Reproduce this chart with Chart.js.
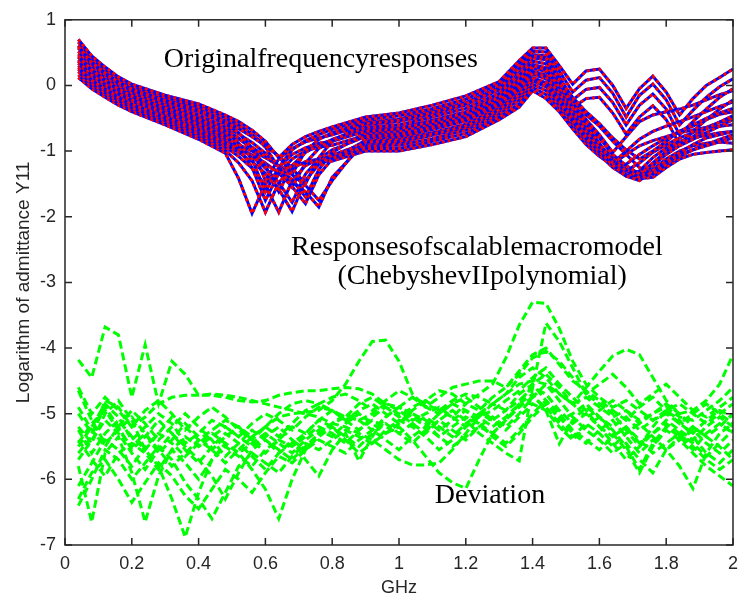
<!DOCTYPE html>
<html><head><meta charset="utf-8">
<script src="https://cdn.jsdelivr.net/npm/chart.js@4.4.1/dist/chart.umd.min.js"></script>
<style>html,body{margin:0;padding:0;background:#fff;}canvas{display:block;}</style>
</head><body>
<canvas id="c" width="746" height="603"></canvas>
<script>
// ---------- tick labels ----------
const xTickValues = [0,0.2,0.4,0.6,0.8,1,1.2,1.4,1.6,1.8,2];
const xTickLabels = ['0','0.2','0.4','0.6','0.8','1','1.2','1.4','1.6','1.8','2'];
const yTickValues = [-7,-6,-5,-4,-3,-2,-1,0,1];
const yTickLabels = ['-7','-6','-5','-4','-3','-2','-1','0','1'];
const xTitle = 'GHz';
const yTitle = 'Logarithm of admittance Y11';

// ---------- original / macromodel responses (GHz, log Y11) ----------
const freqTop = [0.04,0.08,0.12,0.16,0.20,0.30,0.40,0.48,0.52,0.56,0.60,0.64,0.68,0.72,0.76,0.80,0.90,1.00,1.10,1.20,1.30,1.36,1.40,1.44,1.48,1.52,1.56,1.60,1.64,1.68,1.72,1.76,1.80,1.84,1.88,1.92,1.96,2.00];
const orig01 = [0.70,0.45,0.28,0.13,0.02,-0.15,-0.28,-0.45, -0.55,-0.68,-0.85,-1.10,-0.90,-0.78,-0.70,-0.63, -0.48,-0.42,-0.30,-0.16,0.06,0.38,0.57,0.57, 0.30,0.02,0.22,0.25,0.00,-0.35,-0.05,0.14,-0.10,-0.45,-0.20,0.00,0.12,0.25];
const orig02 = [0.66,0.41,0.24,0.10,-0.01,-0.18,-0.32,-0.49, -0.60,-0.74,-0.94,-1.25,-0.98,-0.84,-0.75,-0.67, -0.52,-0.46,-0.35,-0.21,0.02,0.33,0.52,0.51, 0.22,-0.10,0.08,0.12,-0.12,-0.48,-0.15,0.02,-0.22,-0.60,-0.38,-0.18,-0.02,0.10];
const orig03 = [0.61,0.37,0.21,0.06,-0.05,-0.22,-0.36,-0.54, -0.64,-0.76,-0.90,-1.08,-1.35,-1.00,-0.82,-0.72, -0.56,-0.51,-0.39,-0.26,-0.03,0.27,0.47,0.45, 0.14,-0.22,-0.06,-0.03,-0.26,-0.60,-0.30,-0.13,-0.36,-0.75,-0.55,-0.36,-0.18,-0.05];
const orig04 = [0.57,0.33,0.17,0.03,-0.08,-0.25,-0.40,-0.58, -0.72,-0.95,-1.45,-1.12,-0.96,-0.86,-0.80,-0.75, -0.60,-0.55,-0.44,-0.30,-0.07,0.22,0.42,0.39, 0.06,-0.34,-0.20,-0.18,-0.42,-0.74,-0.48,-0.31,-0.52,-0.90,-0.70,-0.52,-0.36,-0.22];
const orig05 = [0.52,0.30,0.14,0.00,-0.11,-0.29,-0.45,-0.63, -0.74,-0.87,-1.03,-1.24,-1.55,-1.18,-0.96,-0.82, -0.64,-0.60,-0.48,-0.35,-0.12,0.16,0.37,0.33, 0.05,-0.22,-0.45,-0.62,-0.85,-1.05,-1.25,-1.35,-1.20,-1.02,-0.90,-0.80,-0.75,-0.70];
const orig06 = [0.48,0.26,0.10,-0.04,-0.14,-0.32,-0.49,-0.67, -0.80,-0.98,-1.22,-1.62,-1.22,-1.02,-0.90,-0.83, -0.68,-0.64,-0.53,-0.40,-0.16,0.11,0.32,0.27, 0.00,-0.28,-0.52,-0.75,-1.02,-0.78,-0.55,-0.45,-0.40,-0.36,-0.30,-0.22,-0.14,-0.08];
const orig07 = [0.43,0.22,0.07,-0.07,-0.17,-0.36,-0.53,-0.72, -0.82,-0.94,-1.08,-1.24,-1.44,-1.70,-1.28,-1.02, -0.72,-0.69,-0.58,-0.45,-0.21,0.05,0.27,0.21, -0.05,-0.35,-0.62,-0.88,-1.18,-1.00,-0.82,-0.70,-0.62,-0.55,-0.48,-0.40,-0.32,-0.25];
const orig08 = [0.39,0.18,0.03,-0.10,-0.21,-0.39,-0.57,-0.76, -0.95,-1.25,-1.75,-1.34,-1.12,-1.00,-0.94,-0.91, -0.76,-0.73,-0.62,-0.49,-0.25,0.00,0.22,0.16, -0.10,-0.40,-0.66,-0.90,-1.10,-1.28,-1.40,-1.22,-1.05,-0.92,-0.82,-0.72,-0.62,-0.52];
const orig09 = [0.34,0.14,0.00,-0.13,-0.24,-0.43,-0.61,-0.81, -0.90,-1.00,-1.10,-1.22,-1.36,-1.52,-1.75,-1.45, -0.80,-0.78,-0.67,-0.54,-0.30,-0.06,0.17,0.10, -0.15,-0.44,-0.72,-0.98,-1.22,-1.38,-1.45,-1.30,-1.15,-1.05,-0.98,-0.92,-0.86,-0.80];
const orig10 = [0.30,0.10,-0.04,-0.17,-0.27,-0.46,-0.65,-0.85, -0.95,-1.06,-1.18,-1.34,-1.54,-1.80,-1.36,-1.12, -0.84,-0.82,-0.72,-0.59,-0.34,-0.11,0.12,0.04, -0.20,-0.50,-0.78,-1.02,-1.20,-1.05,-0.92,-0.84,-0.78,-0.72,-0.68,-0.64,-0.62,-0.60];
const orig11 = [0.25,0.07,-0.07,-0.20,-0.30,-0.50,-0.70,-0.90, -1.02,-1.16,-1.34,-1.58,-1.92,-1.45,-1.20,-1.06, -0.88,-0.87,-0.76,-0.64,-0.39,-0.17,0.07,-0.02, -0.25,-0.55,-0.82,-1.00,-1.15,-1.30,-1.42,-1.40,-1.25,-1.12,-1.05,-1.02,-1.00,-0.98];
const orig12 = [0.21,0.03,-0.11,-0.23,-0.34,-0.53,-0.74,-0.94, -1.08,-1.26,-1.52,-1.93,-1.45,-1.22,-1.12,-1.07, -0.92,-0.91,-0.81,-0.68,-0.43,-0.22,0.02,-0.08, -0.30,-0.58,-0.85,-1.05,-1.25,-1.38,-1.30,-1.10,-0.95,-0.85,-0.80,-0.76,-0.72,-0.70];
const orig13 = [0.16,-0.01,-0.14,-0.27,-0.37,-0.57,-0.78,-0.99, -1.18,-1.45,-1.93,-1.48,-1.26,-1.16,-1.12,-1.11, -0.96,-0.96,-0.85,-0.73,-0.48,-0.28,-0.03,-0.14, -0.34,-0.62,-0.88,-1.02,-1.18,-1.36,-1.40,-1.28,-1.12,-1.00,-0.92,-0.88,-0.86,-0.88];
const orig14 = [0.12,-0.05,-0.18,-0.30,-0.40,-0.60,-0.82,-1.03, -1.42,-1.95,-1.50,-1.30,-1.22,-1.18,-1.16,-1.15, -1.00,-1.00,-0.90,-0.78,-0.52,-0.33,-0.08,-0.20, -0.40,-0.66,-0.90,-1.08,-1.22,-1.20,-1.05,-0.92,-0.80,-0.70,-0.62,-0.52,-0.44,-0.40];
const orig15 = [0.59,0.35,0.19,0.05,-0.06,-0.23,-0.38,-0.56, -0.66,-0.78,-0.92,-1.08,-1.26,-1.50,-1.10,-0.85, -0.58,-0.53,-0.41,-0.28,-0.05,0.25,0.45,0.42, 0.10,-0.18,-0.40,-0.58,-0.80,-0.98,-1.12,-1.00,-0.85,-0.70,-0.60,-0.50,-0.42,-0.35];
const orig16 = [0.45,0.24,0.08,-0.05,-0.15,-0.34,-0.51,-0.70, -0.88,-1.12,-1.62,-1.25,-1.05,-0.95,-0.88,-0.85, -0.70,-0.66,-0.55,-0.42,-0.18,0.08,0.30,0.24, -0.02,-0.30,-0.58,-0.80,-1.05,-1.22,-1.35,-1.18,-1.00,-0.88,-0.78,-0.66,-0.56,-0.46];
const orig17 = [0.27,0.08,-0.05,-0.18,-0.28,-0.48,-0.68,-0.88, -0.97,-1.08,-1.20,-1.32,-1.46,-1.62,-1.85,-1.40, -0.86,-0.85,-0.74,-0.62,-0.37,-0.14,0.10,0.00, -0.22,-0.52,-0.80,-1.00,-1.15,-1.28,-1.38,-1.35,-1.20,-1.08,-0.98,-0.90,-0.82,-0.75];
const orig18 = [0.37,0.16,0.02,-0.12,-0.22,-0.41,-0.59,-0.78, -0.92,-1.08,-1.26,-1.48,-1.78,-1.35,-1.12,-0.98, -0.78,-0.75,-0.64,-0.51,-0.27,-0.03,0.20,0.13, -0.12,-0.42,-0.70,-0.95,-1.15,-1.30,-1.18,-1.02,-0.90,-0.80,-0.72,-0.64,-0.56,-0.50];

// ---------- deviation curves ----------
const freqDev = [0.04,0.08,0.12,0.16,0.20,0.24,0.28,0.32,0.36,0.40,
  0.44,0.48,0.52,0.56,0.60,0.64,0.68,0.72,0.76,0.80,
  0.84,0.88,0.92,0.96,1.00,1.04,1.08,1.12,1.16,1.20,
  1.24,1.28,1.32,1.36,1.40,1.44,1.48,1.52,1.56,1.60,
  1.64,1.68,1.72,1.76,1.80,1.84,1.88,1.92,1.96,2.00];
const dev01 = [-4.18,-4.45,-3.68,-3.80,-4.75,-3.95,-4.85,-4.20,-4.40,-4.72,
  -4.72,-4.75,-4.80,-4.82,-4.80,-4.72,-4.68,-4.65,-4.65,-4.62,
  -4.60,-4.62,-4.70,-4.85,-4.90,-4.75,-4.85,-4.95,-4.80,-4.70,
  -4.75,-4.85,-4.70,-4.45,-4.30,-4.45,-4.70,-4.85,-4.75,-4.90,
  -5.05,-4.95,-5.10,-5.00,-4.90,-5.05,-5.10,-4.95,-4.80,-4.60];
const dev02 = [-5.25,-5.60,-5.30,-5.10,-5.35,-5.55,-5.30,-5.05,-5.20,-5.40,
  -5.25,-5.10,-5.20,-5.35,-5.20,-5.05,-5.00,-4.98,-4.95,-4.80,
  -4.55,-4.20,-3.90,-3.88,-4.20,-4.70,-4.90,-5.00,-4.85,-4.75,
  -4.90,-5.10,-4.95,-4.70,-4.55,-4.80,-5.10,-5.00,-4.85,-5.05,
  -5.20,-5.05,-5.25,-5.10,-5.00,-5.15,-5.30,-5.10,-4.95,-5.05];
const dev03 = [-5.50,-5.20,-4.85,-5.05,-5.40,-5.20,-5.00,-5.15,-5.45,-5.30,
  -5.10,-5.20,-5.35,-5.15,-5.00,-5.10,-5.25,-5.05,-4.90,-4.95,
  -5.05,-4.85,-4.75,-4.90,-5.05,-4.90,-4.80,-4.95,-5.05,-4.85,
  -4.70,-4.55,-4.15,-3.65,-3.30,-3.32,-3.70,-4.20,-4.55,-4.75,
  -4.90,-4.80,-4.95,-5.10,-4.95,-4.85,-5.00,-5.15,-5.00,-4.85];
const dev04 = [-5.20,-5.45,-5.00,-4.80,-5.10,-5.55,-5.80,-6.30,-6.88,-6.20,
  -5.70,-5.45,-5.60,-5.85,-6.15,-6.60,-6.00,-5.55,-5.30,-5.15,
  -5.05,-5.10,-5.00,-4.85,-4.95,-5.10,-5.00,-4.90,-5.05,-5.20,
  -5.00,-4.85,-4.95,-4.80,-4.60,-4.70,-4.95,-5.15,-5.00,-5.20,
  -5.35,-5.20,-5.45,-5.30,-5.10,-5.25,-5.40,-5.20,-5.05,-5.20];
const dev05 = [-5.80,-6.65,-5.60,-5.35,-5.90,-6.65,-5.95,-5.55,-5.75,-6.00,
  -5.70,-5.50,-5.65,-5.80,-5.55,-5.40,-5.50,-5.35,-5.20,-5.30,
  -5.45,-5.25,-5.10,-5.20,-5.30,-5.15,-5.05,-5.20,-5.35,-5.15,
  -5.00,-5.10,-5.25,-5.05,-4.85,-4.95,-5.20,-5.40,-5.20,-5.05,
  -5.25,-5.50,-5.85,-5.45,-5.20,-5.35,-5.55,-5.30,-5.15,-5.30];
const dev06 = [-6.40,-6.00,-5.55,-5.70,-6.00,-5.75,-5.50,-5.70,-6.05,-6.30,
  -6.60,-6.20,-5.80,-5.60,-5.75,-5.90,-5.65,-5.45,-5.55,-5.40,
  -5.25,-5.35,-5.45,-5.30,-5.20,-5.40,-5.65,-5.90,-6.05,-6.14,
  -5.70,-5.30,-5.10,-4.90,-4.75,-4.90,-5.15,-5.35,-5.15,-5.30,
  -5.50,-5.30,-5.15,-5.35,-5.55,-5.40,-5.25,-5.45,-5.60,-5.40];
const dev07 = [-5.60,-5.35,-4.80,-4.90,-5.20,-5.05,-4.85,-4.75,-4.72,-4.72,
  -4.70,-4.72,-4.75,-4.80,-4.85,-4.90,-4.95,-5.00,-5.05,-5.15,
  -5.20,-5.30,-5.40,-5.55,-5.70,-5.78,-5.78,-5.75,-5.55,-5.30,
  -5.05,-4.85,-4.70,-4.55,-4.50,-4.55,-4.70,-4.85,-4.60,-4.35,
  -4.12,-4.02,-4.10,-4.45,-4.80,-5.00,-4.95,-4.80,-4.55,-4.10];
const dev08 = [-4.65,-5.10,-5.45,-5.25,-5.05,-5.30,-5.60,-5.40,-5.15,-5.35,
  -5.55,-5.35,-5.20,-5.40,-5.60,-5.40,-5.20,-5.30,-5.10,-4.95,
  -5.10,-5.25,-5.05,-4.90,-5.00,-5.15,-5.30,-5.10,-4.95,-5.10,
  -5.30,-5.45,-5.60,-5.72,-4.60,-3.62,-3.90,-4.30,-4.70,-4.85,
  -5.00,-5.25,-5.50,-5.20,-4.95,-5.10,-5.35,-5.60,-5.75,-5.55];
const dev09 = [-5.40,-5.70,-5.95,-5.60,-5.45,-5.60,-5.85,-5.55,-5.35,-5.50,
  -5.35,-5.20,-5.35,-5.50,-5.35,-5.20,-5.40,-5.70,-5.95,-5.55,
  -5.30,-5.72,-5.35,-5.05,-4.90,-5.00,-5.15,-5.35,-5.20,-5.05,
  -5.15,-5.35,-5.50,-5.30,-5.05,-4.85,-5.05,-5.30,-5.45,-5.25,
  -5.10,-5.35,-5.60,-5.40,-5.55,-5.80,-6.14,-5.60,-5.30,-5.15];
const dev10 = [-6.10,-5.75,-5.40,-5.55,-5.80,-5.50,-5.30,-5.45,-5.65,-5.45,
  -5.30,-5.45,-5.60,-5.45,-5.30,-5.45,-5.60,-5.40,-5.25,-5.35,
  -5.15,-5.00,-5.15,-5.30,-5.15,-5.00,-5.10,-5.25,-5.10,-4.95,
  -5.05,-5.20,-5.05,-4.85,-4.70,-4.95,-5.46,-5.10,-4.90,-5.05,
  -5.30,-5.55,-5.90,-5.50,-5.25,-5.40,-5.60,-5.80,-5.95,-6.10];
const dev11 = [-4.60,-5.00,-4.75,-4.95,-5.20,-4.95,-4.80,-5.00,-5.25,-5.05,
  -4.90,-5.05,-5.25,-5.40,-5.20,-5.00,-4.85,-4.80,-4.85,-4.75,
  -4.70,-4.80,-4.95,-4.80,-4.65,-4.75,-4.90,-4.75,-4.60,-4.55,
  -4.50,-4.50,-4.60,-4.40,-4.15,-4.05,-4.20,-4.45,-4.70,-4.55,
  -4.40,-4.60,-4.85,-4.70,-4.55,-4.75,-4.95,-5.05,-4.90,-4.75];
const dev12 = [-6.30,-5.90,-5.70,-6.00,-6.35,-6.05,-5.75,-5.95,-6.25,-6.45,
  -6.15,-5.85,-6.00,-6.20,-5.90,-5.65,-5.75,-5.55,-5.40,-5.50,
  -5.60,-5.40,-5.25,-5.40,-5.55,-5.35,-5.20,-5.35,-5.50,-5.35,
  -5.20,-5.30,-5.45,-5.25,-5.00,-4.80,-5.00,-5.25,-5.40,-5.55,
  -5.35,-5.20,-5.40,-5.60,-5.45,-5.30,-5.45,-5.65,-5.45,-5.25];
const dev13 = [-5.00,-5.30,-4.90,-5.20,-5.55,-5.35,-5.10,-5.30,-5.55,-5.75,
  -5.50,-5.30,-5.45,-5.65,-5.85,-5.60,-5.40,-5.55,-5.35,-5.20,
  -5.35,-5.50,-5.30,-5.15,-5.30,-5.45,-5.25,-5.10,-5.25,-5.40,
  -5.20,-5.05,-5.20,-5.00,-4.75,-4.55,-4.80,-5.05,-5.25,-5.40,
  -5.60,-5.45,-5.70,-5.90,-5.55,-5.35,-5.20,-5.35,-5.50,-5.70];
const dev14 = [-5.70,-5.40,-5.10,-5.30,-5.60,-5.85,-5.55,-5.30,-5.50,-5.70,
  -5.95,-6.30,-5.90,-5.55,-5.40,-5.55,-5.70,-5.50,-5.30,-5.15,
  -5.00,-5.10,-5.25,-5.05,-4.90,-5.05,-5.20,-5.00,-4.85,-4.95,
  -5.15,-5.30,-5.10,-4.85,-4.55,-4.40,-4.60,-4.85,-5.05,-4.95,
  -4.80,-4.95,-5.15,-5.00,-4.85,-5.00,-5.20,-5.35,-5.20,-5.00];
const dev15 = [-4.90,-5.25,-5.50,-5.20,-4.95,-5.15,-5.40,-5.20,-5.00,-5.20,
  -5.40,-5.65,-5.45,-5.25,-5.40,-5.60,-5.45,-5.30,-5.10,-5.20,
  -5.40,-5.60,-5.45,-5.25,-5.10,-5.20,-5.35,-5.55,-5.40,-5.20,
  -5.05,-4.95,-4.80,-4.65,-4.45,-4.30,-4.55,-4.75,-4.95,-5.20,
  -5.45,-5.70,-5.50,-5.30,-5.15,-5.30,-5.50,-5.70,-5.85,-5.70];
const dev16 = [-5.45,-5.15,-4.95,-5.25,-5.50,-5.30,-5.55,-5.80,-5.60,-5.40,
  -5.55,-5.75,-5.55,-5.35,-5.20,-5.35,-5.15,-4.95,-4.85,-4.95,
  -5.10,-4.95,-4.85,-5.00,-5.15,-4.95,-4.80,-4.65,-4.70,-4.85,
  -4.95,-4.75,-4.60,-4.35,-4.10,-4.00,-4.25,-4.50,-4.65,-4.80,
  -4.95,-5.10,-4.90,-4.75,-4.95,-5.15,-5.00,-4.85,-5.00,-5.15];

// ---------- in-plot annotations (text, anchored in data coordinates) ----------
const noteTexts = ['Originalfrequencyresponses','Responsesofscalablemacromodel','(ChebyshevIIpolynomial)','Deviation'];
const noteX = [0.296, 0.677, 0.816, 1.107];
const noteY = [0.275, -2.577, -3.03, -6.366];

const origSeries = [orig01,orig15,orig02,orig03,orig04,orig05,orig16,orig06,orig07,orig18,orig08,orig09,orig17,orig10,orig11,orig12,orig13,orig14];
const devSeries = [dev01,dev02,dev03,dev04,dev05,dev06,dev07,dev08,dev09,dev10,dev11,dev12,dev13,dev14,dev15,dev16];
const pts = (xs, ys) => ys.map((v, i) => ({x: xs[i], y: v}));
const base = {pointRadius: 0, pointHoverRadius: 0, fill: false, tension: 0, borderCapStyle: 'butt', borderJoinStyle: 'miter'};

// Chart.js paints lower dataset indices on top, so each pair [red model, blue original]
// ends up as blue solid with the red dashed model over it, curve after curve.
const datasets = [];
origSeries.forEach(s => {
  datasets.push(Object.assign({}, base, {data: pts(freqTop, s), borderColor: '#ff0000', borderWidth: 3, borderDash: [3, 3]}));
  datasets.push(Object.assign({}, base, {data: pts(freqTop, s), borderColor: '#0000ff', borderWidth: 3}));
});
devSeries.forEach(s => {
  datasets.push(Object.assign({}, base, {data: pts(freqDev, s), borderColor: '#00ff00', borderWidth: 3, borderDash: [8, 4]}));
});

const framePlugin = {
  id: 'frame',
  beforeDraw(chart) {
    const c = chart.ctx; c.save(); c.fillStyle = '#fff'; c.fillRect(0, 0, chart.width, chart.height); c.restore();
  },
  afterDraw(chart) {
    const c = chart.ctx, a = chart.chartArea, xs = chart.scales.x, ys = chart.scales.y;
    c.save();
    c.strokeStyle = '#262626'; c.lineWidth = 1.5;
    c.strokeRect(a.left, a.top, a.right - a.left, a.bottom - a.top);
    c.beginPath();
    const L = 7;
    xs.ticks.forEach(t => { const p = xs.getPixelForValue(t.value);
      c.moveTo(p, a.bottom); c.lineTo(p, a.bottom - L); c.moveTo(p, a.top); c.lineTo(p, a.top + L); });
    ys.ticks.forEach(t => { const p = ys.getPixelForValue(t.value);
      c.moveTo(a.left, p); c.lineTo(a.left + L, p); c.moveTo(a.right, p); c.lineTo(a.right - L, p); });
    c.stroke();
    c.fillStyle = '#000'; c.font = "28px 'Liberation Serif'"; c.textAlign = 'left'; c.textBaseline = 'alphabetic';
    noteTexts.forEach((t, i) => c.fillText(t, xs.getPixelForValue(noteX[i]), ys.getPixelForValue(noteY[i])));
    c.restore();
  }
};

const tickFont = {family: "'Liberation Sans', Arial, sans-serif", size: 18};
new Chart(document.getElementById('c'), {
  type: 'line',
  data: {datasets},
  options: {
    responsive: false, animation: false, events: [],
    layout: {padding: {top: 15, right: 8, left: 0, bottom: 0}},
    plugins: {legend: {display: false}, tooltip: {enabled: false}},
    scales: {
      x: {
        type: 'linear', min: 0, max: 2,
        afterBuildTicks: s => { s.ticks = xTickValues.map(v => ({value: v})); },
        afterFit: s => { s.height = 58; },
        grid: {display: false, drawTicks: false}, border: {display: false},
        ticks: {autoSkip: false, maxRotation: 0, padding: 8, color: '#262626', font: tickFont,
          callback: (v, i) => xTickLabels[i]},
        title: {display: true, text: xTitle, color: '#262626', font: {family: "'Liberation Sans', Arial, sans-serif", size: 18}, padding: {top: 0, bottom: 4}}
      },
      y: {
        type: 'linear', min: -7, max: 1,
        afterBuildTicks: s => { s.ticks = yTickValues.map(v => ({value: v})); },
        afterFit: s => { s.width = 65; },
        grid: {display: false, drawTicks: false}, border: {display: false},
        ticks: {autoSkip: false, padding: 9, color: '#262626', font: tickFont,
          callback: (v, i) => yTickLabels[i]},
        title: {display: true, text: yTitle, color: '#262626', font: {family: "'Liberation Sans', Arial, sans-serif", size: 19}, padding: {top: 12, bottom: 0}}
      }
    }
  },
  plugins: [framePlugin]
});
</script>
</body></html>
